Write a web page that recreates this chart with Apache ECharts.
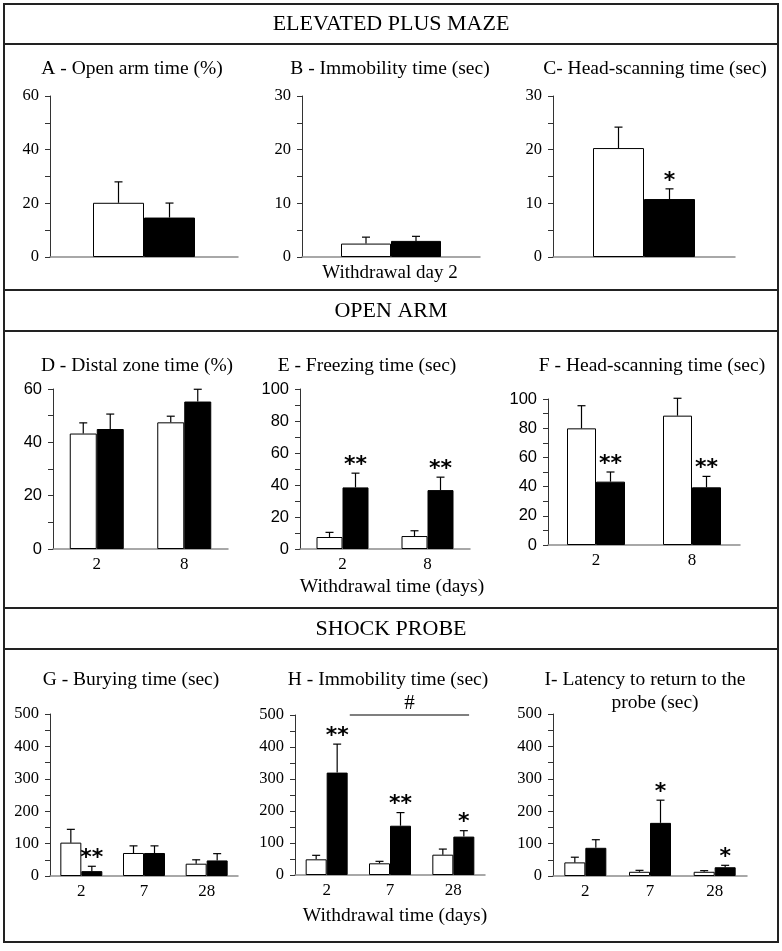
<!DOCTYPE html>
<html>
<head>
<meta charset="utf-8">
<script src="https://cdn.jsdelivr.net/npm/echarts@6/dist/echarts.min.js"></script>
<style>
  html, body { margin: 0; padding: 0; background: #fff; }
  #chart { width: 782px; height: 951px; }
</style>
</head>
<body>
<div id="chart"></div>
<script>
// ---- data (means, SEM, significance marks) ----
const epmCats = ['2'];
const openArmDays = ['2', '8'];
const shockDays = ['2', '7', '28'];

const A_ctrl = [20.2], A_ctrlSem = [7.8];
const A_drug = [14.7], A_drugSem = [5.4], A_sig = [''];

const B_ctrl = [2.5], B_ctrlSem = [1.2];
const B_drug = [3.0], B_drugSem = [0.85], B_sig = [''];

const C_ctrl = [20.3], C_ctrlSem = [3.9];
const C_drug = [10.8], C_drugSem = [1.9], C_sig = ['*'];

const D_ctrl = [43.3, 47.5], D_ctrlSem = [4.0, 2.3];
const D_drug = [45.0, 55.3], D_drugSem = [5.6, 4.6], D_sig = ['', ''];

const E_ctrl = [7.5, 8.1], E_ctrlSem = [2.9, 3.3];
const E_drug = [38.5, 36.8], E_drugSem = [8.9, 8.1], E_sig = ['**', '**'];

const F_ctrl = [79.9, 88.6], F_ctrlSem = [15.5, 11.9];
const F_drug = [43.4, 39.5], F_drugSem = [6.6, 7.5], F_sig = ['**', '**'];

const G_ctrl = [103, 71, 38], G_ctrlSem = [41, 22, 12];
const G_drug = [15, 71, 48], G_drugSem = [15, 22, 21], G_sig = ['**', '', ''];

const H_ctrl = [49, 36.5, 63.5], H_ctrlSem = [12.5, 6.2, 17.5];
const H_drug = [320, 154, 120], H_drugSem = [89, 41, 18.5], H_sig = ['**', '**', '*'];
const H_bracket = { from: 0, to: 2, level: 500, mark: '#' };

const I_ctrl = [42, 13, 13], I_ctrlSem = [16, 4.5, 3.5];
const I_drug = [87, 164, 27], I_drugSem = [25, 70, 6], I_sig = ['', '*', '*'];

const SERIF = '"Liberation Serif", "Times New Roman", serif';
const SANS = '"Liberation Sans", Arial, sans-serif';
const STAR = '"DejaVu Sans", sans-serif';

const chart = echarts.init(document.getElementById('chart'));

const grids = [], xAxes = [], yAxes = [], series = [];

function addPanel(p) {
  const idx = grids.length;
  grids.push({ left: p.left, top: p.top, width: p.width, height: p.height });
  xAxes.push({
    type: 'category', gridIndex: idx, data: p.cats,
    axisLine: { lineStyle: { color: '#8c8c8c', width: 1.5 } },
    axisTick: { show: false },
    axisLabel: { show: p.showX, color: '#000', fontFamily: SERIF, fontSize: 17, margin: 7 }
  });
  yAxes.push({
    type: 'value', gridIndex: idx, min: 0, max: p.max, interval: p.minor,
    axisLine: { show: true, lineStyle: { color: '#333', width: 1 } },
    axisTick: { show: true, length: 5, lineStyle: { color: '#333' } },
    splitLine: { show: false },
    axisLabel: {
      color: '#000', fontFamily: p.yFont, fontSize: 16.5, margin: 11,
      formatter: v => (v % p.major === 0 ? String(v) : '')
    }
  });
  const bw = p.barWidth;
  const groups = [
    { vals: p.ctrl, sem: p.ctrlSem, fill: '#fff', off: -bw / 2, sig: null },
    { vals: p.drug, sem: p.drugSem, fill: '#000', off: bw / 2, sig: p.sig }
  ];
  groups.forEach(g => {
    series.push({
      type: 'bar', xAxisIndex: idx, yAxisIndex: idx, data: g.vals,
      barWidth: bw, barGap: '0%',
      itemStyle: { color: g.fill, borderColor: '#000', borderWidth: 1 },
      silent: true
    });
  });
  groups.forEach(g => {
    series.push({
      type: 'custom', xAxisIndex: idx, yAxisIndex: idx, z: 5, silent: true,
      data: g.vals.map((v, i) => [i, v, g.sem[i]]),
      encode: { x: 0, y: 1 },
      renderItem: (params, api) => {
        const i = api.value(0), m = api.value(1), s = api.value(2);
        const x = api.coord([i, 0])[0] + g.off;
        const y0 = api.coord([i, m])[1];
        const y1 = api.coord([i, m + s])[1];
        const children = [
          { type: 'line', shape: { x1: x, y1: y0, x2: x, y2: y1 }, style: { stroke: '#000', lineWidth: 1.2 } },
          { type: 'line', shape: { x1: x - 4, y1: y1, x2: x + 4, y2: y1 }, style: { stroke: '#000', lineWidth: 1.2 } }
        ];
        const mark = g.sig ? g.sig[params.dataIndex] : '';
        if (mark) {
          children.push({
            type: 'text',
            style: { x: x, y: y1 + 3, text: mark, fill: '#000', font: 'bold 22px ' + STAR, textAlign: 'center', textVerticalAlign: 'bottom' }
          });
        }
        return { type: 'group', children: children };
      }
    });
  });
  if (p.bracket) {
    const b = p.bracket;
    series.push({
      type: 'custom', xAxisIndex: idx, yAxisIndex: idx, z: 5, silent: true,
      data: [[b.from, b.level, b.to]],
      encode: { x: 0, y: 1 },
      renderItem: (params, api) => {
        const xa = api.coord([api.value(0), 0])[0] + bw * 1.1;
        const xb = api.coord([api.value(2), 0])[0] + bw * 0.75;
        const y = api.coord([0, api.value(1)])[1];
        return {
          type: 'group', children: [
            { type: 'line', shape: { x1: xa, y1: y, x2: xb, y2: y }, style: { stroke: '#000', lineWidth: 1.2 } },
            { type: 'text', style: { x: (xa + xb) / 2, y: y - 1, text: b.mark, fill: '#000', font: '21px ' + SERIF, textAlign: 'center', textVerticalAlign: 'bottom' } }
          ]
        };
      }
    });
  }
}

// row 1 : elevated plus maze
addPanel({ left: 50, top: 96, width: 188, height: 161, cats: epmCats, showX: false, max: 60, minor: 10, major: 20, yFont: SERIF, barWidth: 51,
  ctrl: A_ctrl, ctrlSem: A_ctrlSem, drug: A_drug, drugSem: A_drugSem, sig: A_sig });
addPanel({ left: 302, top: 96, width: 178, height: 161, cats: epmCats, showX: false, max: 30, minor: 5, major: 10, yFont: SERIF, barWidth: 50,
  ctrl: B_ctrl, ctrlSem: B_ctrlSem, drug: B_drug, drugSem: B_drugSem, sig: B_sig });
addPanel({ left: 553, top: 96, width: 182, height: 161, cats: epmCats, showX: false, max: 30, minor: 5, major: 10, yFont: SERIF, barWidth: 51,
  ctrl: C_ctrl, ctrlSem: C_ctrlSem, drug: C_drug, drugSem: C_drugSem, sig: C_sig });
// row 2 : open arm
addPanel({ left: 53, top: 389, width: 175, height: 160, cats: openArmDays, showX: true, max: 60, minor: 10, major: 20, yFont: SANS, barWidth: 27,
  ctrl: D_ctrl, ctrlSem: D_ctrlSem, drug: D_drug, drugSem: D_drugSem, sig: D_sig });
addPanel({ left: 300, top: 389, width: 170, height: 160, cats: openArmDays, showX: true, max: 100, minor: 10, major: 20, yFont: SANS, barWidth: 26,
  ctrl: E_ctrl, ctrlSem: E_ctrlSem, drug: E_drug, drugSem: E_drugSem, sig: E_sig });
addPanel({ left: 548, top: 399, width: 192, height: 146, cats: openArmDays, showX: true, max: 100, minor: 10, major: 20, yFont: SANS, barWidth: 29,
  ctrl: F_ctrl, ctrlSem: F_ctrlSem, drug: F_drug, drugSem: F_drugSem, sig: F_sig });
// row 3 : shock probe
addPanel({ left: 50, top: 714, width: 188, height: 162, cats: shockDays, showX: true, max: 500, minor: 50, major: 100, yFont: SERIF, barWidth: 21,
  ctrl: G_ctrl, ctrlSem: G_ctrlSem, drug: G_drug, drugSem: G_drugSem, sig: G_sig });
addPanel({ left: 295, top: 715, width: 190, height: 160, cats: shockDays, showX: true, max: 500, minor: 50, major: 100, yFont: SERIF, barWidth: 21,
  ctrl: H_ctrl, ctrlSem: H_ctrlSem, drug: H_drug, drugSem: H_drugSem, sig: H_sig, bracket: H_bracket });
addPanel({ left: 553, top: 714, width: 194, height: 162, cats: shockDays, showX: true, max: 500, minor: 50, major: 100, yFont: SERIF, barWidth: 21,
  ctrl: I_ctrl, ctrlSem: I_ctrlSem, drug: I_drug, drugSem: I_drugSem, sig: I_sig });

function txt(x, y, s, size) {
  return { type: 'text', x: x, y: y, silent: true,
    style: { text: s, font: (size || 19.5) + 'px ' + SERIF, fill: '#000', textAlign: 'center', textVerticalAlign: 'middle' } };
}
function hline(y) {
  return { type: 'line', silent: true, shape: { x1: 4, y1: y, x2: 778, y2: y }, style: { stroke: '#222', lineWidth: 2 } };
}

const graphics = [
  { type: 'rect', silent: true, shape: { x: 4, y: 4, width: 774, height: 938 }, style: { fill: 'none', stroke: '#222', lineWidth: 2 } },
  hline(44), hline(290), hline(331), hline(608), hline(649),
  txt(391, 24, 'ELEVATED PLUS MAZE', 22),
  txt(391, 311, 'OPEN ARM', 22),
  txt(391, 629, 'SHOCK PROBE', 22),
  txt(132, 69, 'A - Open arm time (%)'),
  txt(390, 69, 'B - Immobility time (sec)'),
  txt(655, 69, 'C- Head-scanning time (sec)'),
  txt(390, 273, 'Withdrawal day 2', 19),
  txt(137, 366, 'D - Distal zone time (%)'),
  txt(367, 366, 'E - Freezing time (sec)'),
  txt(652, 366, 'F - Head-scanning time (sec)'),
  txt(392, 587, 'Withdrawal time (days)', 19.5),
  txt(131, 680, 'G - Burying time (sec)'),
  txt(388, 680, 'H - Immobility time (sec)'),
  txt(645, 680, 'I- Latency to return to the'),
  txt(655, 703, 'probe (sec)'),
  txt(395, 916, 'Withdrawal time (days)', 19.5)
];

chart.setOption({
  backgroundColor: '#fff',
  animation: false,
  grid: grids,
  xAxis: xAxes,
  yAxis: yAxes,
  series: series,
  graphic: graphics
});
</script>
</body>
</html>
